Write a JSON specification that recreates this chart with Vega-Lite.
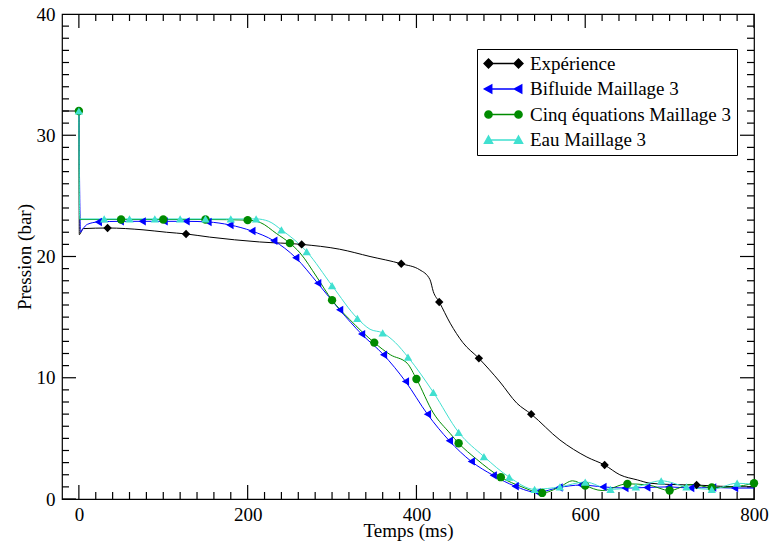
{
"$schema": "https://vega.github.io/schema/vega-lite/v6.json",
"width": 692, "height": 485,
"autosize": {"type": "none"},
"padding": {"left": 62, "top": 14, "right": 15, "bottom": 49},
"background": "white",
"config": {
  "font": "Liberation Serif",
  "view": {"stroke": "black", "strokeWidth": 1.2},
  "axis": {"grid": false, "domain": false, "ticks": false,
    "labelColor": "black", "labelFontSize": 19, "labelFont": "Liberation Serif",
    "titleFont": "Liberation Serif", "titleFontSize": 19, "titleFontWeight": "normal", "titleColor": "black",
    "labelOverlap": false, "labelFlush": false, "labelBound": false},
  "legend": {"labelFont": "Liberation Serif", "labelFontSize": 19, "labelColor": "black"}
},
"datasets": {
  "xt": [
    {"v":0,"mj":1},{"v":20,"mj":0},{"v":40,"mj":0},{"v":60,"mj":0},{"v":80,"mj":0},{"v":100,"mj":0},{"v":120,"mj":0},{"v":140,"mj":0},{"v":160,"mj":0},{"v":180,"mj":0},
    {"v":200,"mj":1},{"v":220,"mj":0},{"v":240,"mj":0},{"v":260,"mj":0},{"v":280,"mj":0},{"v":300,"mj":0},{"v":320,"mj":0},{"v":340,"mj":0},{"v":360,"mj":0},{"v":380,"mj":0},
    {"v":400,"mj":1},{"v":420,"mj":0},{"v":440,"mj":0},{"v":460,"mj":0},{"v":480,"mj":0},{"v":500,"mj":0},{"v":520,"mj":0},{"v":540,"mj":0},{"v":560,"mj":0},{"v":580,"mj":0},
    {"v":600,"mj":1},{"v":620,"mj":0},{"v":640,"mj":0},{"v":660,"mj":0},{"v":680,"mj":0},{"v":700,"mj":0},{"v":720,"mj":0},{"v":740,"mj":0},{"v":760,"mj":0},{"v":780,"mj":0},
    {"v":800,"mj":1}
  ],
  "yt": [
    {"v":0,"mj":1},{"v":1,"mj":0},{"v":2,"mj":0},{"v":3,"mj":0},{"v":4,"mj":0},{"v":5,"mj":0},{"v":6,"mj":0},{"v":7,"mj":0},{"v":8,"mj":0},{"v":9,"mj":0},
    {"v":10,"mj":1},{"v":11,"mj":0},{"v":12,"mj":0},{"v":13,"mj":0},{"v":14,"mj":0},{"v":15,"mj":0},{"v":16,"mj":0},{"v":17,"mj":0},{"v":18,"mj":0},{"v":19,"mj":0},
    {"v":20,"mj":1},{"v":21,"mj":0},{"v":22,"mj":0},{"v":23,"mj":0},{"v":24,"mj":0},{"v":25,"mj":0},{"v":26,"mj":0},{"v":27,"mj":0},{"v":28,"mj":0},{"v":29,"mj":0},
    {"v":30,"mj":1},{"v":31,"mj":0},{"v":32,"mj":0},{"v":33,"mj":0},{"v":34,"mj":0},{"v":35,"mj":0},{"v":36,"mj":0},{"v":37,"mj":0},{"v":38,"mj":0},{"v":39,"mj":0},
    {"v":40,"mj":1}
  ],
  "d": [
    {"s":"Expérience","t":-20,"p":32,"mk":0},{"s":"Expérience","t":0,"p":32,"mk":0},{"s":"Expérience","t":0.5,"p":21.8,"mk":0},{"s":"Expérience","t":5,"p":22.3,"mk":0},{"s":"Expérience","t":34,"p":22.35,"mk":1},{"s":"Expérience","t":76,"p":22.2,"mk":0},{"s":"Expérience","t":104,"p":22.0,"mk":0},{"s":"Expérience","t":127,"p":21.86,"mk":1},{"s":"Expérience","t":155,"p":21.6,"mk":0},{"s":"Expérience","t":214,"p":21.2,"mk":0},{"s":"Expérience","t":264,"p":21.0,"mk":1},{"s":"Expérience","t":309,"p":20.6,"mk":0},{"s":"Expérience","t":345,"p":20.0,"mk":0},{"s":"Expérience","t":382,"p":19.4,"mk":1},{"s":"Expérience","t":404,"p":18.9,"mk":0},{"s":"Expérience","t":416,"p":18.1,"mk":0},{"s":"Expérience","t":420,"p":17.1,"mk":0},{"s":"Expérience","t":427,"p":16.25,"mk":1},{"s":"Expérience","t":440,"p":14.5,"mk":0},{"s":"Expérience","t":455,"p":12.9,"mk":0},{"s":"Expérience","t":474,"p":11.6,"mk":1},{"s":"Expérience","t":499,"p":9.65,"mk":0},{"s":"Expérience","t":519,"p":7.9,"mk":0},{"s":"Expérience","t":536,"p":7.0,"mk":1},{"s":"Expérience","t":570,"p":4.87,"mk":0},{"s":"Expérience","t":602,"p":3.46,"mk":0},{"s":"Expérience","t":623,"p":2.8,"mk":1},{"s":"Expérience","t":641,"p":2.0,"mk":0},{"s":"Expérience","t":662,"p":1.57,"mk":0},{"s":"Expérience","t":677,"p":1.3,"mk":0},{"s":"Expérience","t":700,"p":1.2,"mk":0},{"s":"Expérience","t":732,"p":1.15,"mk":1},{"s":"Expérience","t":760,"p":1.05,"mk":0},{"s":"Expérience","t":800,"p":1.0,"mk":0},
    {"s":"Bifluide Maillage 3","t":0,"p":32,"mk":0},{"s":"Bifluide Maillage 3","t":2,"p":22.0,"mk":0},{"s":"Bifluide Maillage 3","t":5,"p":22.3,"mk":0},{"s":"Bifluide Maillage 3","t":10,"p":22.65,"mk":0},{"s":"Bifluide Maillage 3","t":23,"p":22.85,"mk":1},{"s":"Bifluide Maillage 3","t":49,"p":22.9,"mk":1},{"s":"Bifluide Maillage 3","t":75,"p":22.9,"mk":1},{"s":"Bifluide Maillage 3","t":101,"p":22.9,"mk":1},{"s":"Bifluide Maillage 3","t":127,"p":22.9,"mk":1},{"s":"Bifluide Maillage 3","t":153,"p":22.85,"mk":1},{"s":"Bifluide Maillage 3","t":179,"p":22.6,"mk":1},{"s":"Bifluide Maillage 3","t":205,"p":22.1,"mk":1},{"s":"Bifluide Maillage 3","t":231,"p":21.3,"mk":1},{"s":"Bifluide Maillage 3","t":257,"p":19.9,"mk":1},{"s":"Bifluide Maillage 3","t":283,"p":17.8,"mk":1},{"s":"Bifluide Maillage 3","t":309,"p":15.6,"mk":1},{"s":"Bifluide Maillage 3","t":335,"p":13.6,"mk":1},{"s":"Bifluide Maillage 3","t":361,"p":11.9,"mk":1},{"s":"Bifluide Maillage 3","t":387,"p":9.7,"mk":1},{"s":"Bifluide Maillage 3","t":413,"p":7.0,"mk":1},{"s":"Bifluide Maillage 3","t":439,"p":4.8,"mk":1},{"s":"Bifluide Maillage 3","t":465,"p":3.1,"mk":1},{"s":"Bifluide Maillage 3","t":491,"p":1.95,"mk":1},{"s":"Bifluide Maillage 3","t":517,"p":1.05,"mk":1},{"s":"Bifluide Maillage 3","t":543,"p":0.55,"mk":1},{"s":"Bifluide Maillage 3","t":569,"p":0.95,"mk":1},{"s":"Bifluide Maillage 3","t":595,"p":1.15,"mk":1},{"s":"Bifluide Maillage 3","t":621,"p":1.0,"mk":1},{"s":"Bifluide Maillage 3","t":647,"p":0.9,"mk":1},{"s":"Bifluide Maillage 3","t":673,"p":0.95,"mk":1},{"s":"Bifluide Maillage 3","t":699,"p":1.0,"mk":1},{"s":"Bifluide Maillage 3","t":725,"p":0.9,"mk":1},{"s":"Bifluide Maillage 3","t":751,"p":0.95,"mk":1},{"s":"Bifluide Maillage 3","t":777,"p":0.9,"mk":1},{"s":"Bifluide Maillage 3","t":800,"p":0.9,"mk":0},
    {"s":"Cinq équations Maillage 3","t":0,"p":32,"mk":1},{"s":"Cinq équations Maillage 3","t":1,"p":23.05,"mk":0},{"s":"Cinq équations Maillage 3","t":50,"p":23.05,"mk":1},{"s":"Cinq équations Maillage 3","t":100,"p":23.05,"mk":1},{"s":"Cinq équations Maillage 3","t":150,"p":23.05,"mk":1},{"s":"Cinq équations Maillage 3","t":200,"p":23.0,"mk":1},{"s":"Cinq équations Maillage 3","t":215,"p":22.8,"mk":0},{"s":"Cinq équations Maillage 3","t":234,"p":21.9,"mk":0},{"s":"Cinq équations Maillage 3","t":250,"p":21.1,"mk":1},{"s":"Cinq équations Maillage 3","t":262,"p":20.3,"mk":0},{"s":"Cinq équations Maillage 3","t":282,"p":18.3,"mk":0},{"s":"Cinq équations Maillage 3","t":300,"p":16.4,"mk":1},{"s":"Cinq équations Maillage 3","t":321,"p":14.8,"mk":0},{"s":"Cinq équations Maillage 3","t":350,"p":12.9,"mk":1},{"s":"Cinq équations Maillage 3","t":369,"p":11.9,"mk":0},{"s":"Cinq équations Maillage 3","t":389,"p":11.2,"mk":0},{"s":"Cinq équations Maillage 3","t":400,"p":9.9,"mk":1},{"s":"Cinq équations Maillage 3","t":420,"p":7.1,"mk":0},{"s":"Cinq équations Maillage 3","t":440,"p":5.4,"mk":0},{"s":"Cinq équations Maillage 3","t":450,"p":4.6,"mk":1},{"s":"Cinq équations Maillage 3","t":471,"p":3.3,"mk":0},{"s":"Cinq équations Maillage 3","t":500,"p":1.8,"mk":1},{"s":"Cinq équations Maillage 3","t":525,"p":1.0,"mk":0},{"s":"Cinq équations Maillage 3","t":549,"p":0.5,"mk":1},{"s":"Cinq équations Maillage 3","t":570,"p":1.0,"mk":0},{"s":"Cinq équations Maillage 3","t":585,"p":1.5,"mk":0},{"s":"Cinq équations Maillage 3","t":600,"p":1.1,"mk":1},{"s":"Cinq équations Maillage 3","t":620,"p":0.7,"mk":0},{"s":"Cinq équations Maillage 3","t":650,"p":1.25,"mk":1},{"s":"Cinq équations Maillage 3","t":675,"p":1.15,"mk":0},{"s":"Cinq équations Maillage 3","t":700,"p":0.7,"mk":1},{"s":"Cinq équations Maillage 3","t":725,"p":1.2,"mk":0},{"s":"Cinq équations Maillage 3","t":750,"p":0.95,"mk":1},{"s":"Cinq équations Maillage 3","t":775,"p":1.0,"mk":0},{"s":"Cinq équations Maillage 3","t":800,"p":1.3,"mk":1},
    {"s":"Eau Maillage 3","t":0,"p":32,"mk":1},{"s":"Eau Maillage 3","t":1,"p":23.1,"mk":0},{"s":"Eau Maillage 3","t":30,"p":23.1,"mk":1},{"s":"Eau Maillage 3","t":60,"p":23.1,"mk":1},{"s":"Eau Maillage 3","t":90,"p":23.1,"mk":1},{"s":"Eau Maillage 3","t":120,"p":23.1,"mk":1},{"s":"Eau Maillage 3","t":150,"p":23.1,"mk":1},{"s":"Eau Maillage 3","t":180,"p":23.1,"mk":1},{"s":"Eau Maillage 3","t":210,"p":23.1,"mk":1},{"s":"Eau Maillage 3","t":225,"p":22.9,"mk":0},{"s":"Eau Maillage 3","t":240,"p":22.2,"mk":1},{"s":"Eau Maillage 3","t":270,"p":20.4,"mk":1},{"s":"Eau Maillage 3","t":300,"p":17.6,"mk":1},{"s":"Eau Maillage 3","t":330,"p":14.9,"mk":1},{"s":"Eau Maillage 3","t":345,"p":14.0,"mk":0},{"s":"Eau Maillage 3","t":360,"p":13.7,"mk":1},{"s":"Eau Maillage 3","t":375,"p":12.9,"mk":0},{"s":"Eau Maillage 3","t":390,"p":11.7,"mk":1},{"s":"Eau Maillage 3","t":420,"p":8.8,"mk":1},{"s":"Eau Maillage 3","t":450,"p":5.5,"mk":1},{"s":"Eau Maillage 3","t":480,"p":3.5,"mk":1},{"s":"Eau Maillage 3","t":510,"p":1.8,"mk":1},{"s":"Eau Maillage 3","t":540,"p":0.8,"mk":1},{"s":"Eau Maillage 3","t":570,"p":1.0,"mk":1},{"s":"Eau Maillage 3","t":600,"p":1.4,"mk":1},{"s":"Eau Maillage 3","t":630,"p":0.8,"mk":1},{"s":"Eau Maillage 3","t":660,"p":1.0,"mk":1},{"s":"Eau Maillage 3","t":690,"p":1.5,"mk":1},{"s":"Eau Maillage 3","t":720,"p":1.0,"mk":1},{"s":"Eau Maillage 3","t":750,"p":0.8,"mk":1},{"s":"Eau Maillage 3","t":780,"p":1.3,"mk":1},{"s":"Eau Maillage 3","t":800,"p":1.2,"mk":0}
  ]
},
"resolve": {"scale": {"shape": "independent", "fill": "independent", "stroke": "independent"}, "axis": {"x": "independent", "y": "independent"}},
"layer": [
  {
    "data": {"name": "xt"},
    "mark": {"type": "tick", "orient": "vertical", "clip": true, "thickness": 1.2, "color": "black", "opacity": 1},
    "encoding": {
      "x": {"field": "v", "type": "quantitative", "scale": {"domain": [-20, 800], "nice": false, "zero": false}, "axis": null},
      "y": {"datum": 0, "type": "quantitative", "scale": {"domain": [0, 40], "nice": false, "zero": false}, "axis": null},
      "size": {"condition": {"test": "datum.mj === 1", "value": 28}, "value": 14}
    }
  },
  {
    "data": {"name": "xt"},
    "mark": {"type": "tick", "orient": "vertical", "clip": true, "thickness": 1.2, "color": "black", "opacity": 1},
    "encoding": {
      "x": {"field": "v", "type": "quantitative", "scale": {"domain": [-20, 800], "nice": false, "zero": false}, "axis": null},
      "y": {"datum": 40, "type": "quantitative", "scale": {"domain": [0, 40], "nice": false, "zero": false}, "axis": null},
      "size": {"condition": {"test": "datum.mj === 1", "value": 28}, "value": 14}
    }
  },
  {
    "data": {"name": "yt"},
    "mark": {"type": "tick", "orient": "horizontal", "clip": true, "thickness": 1.2, "color": "black", "opacity": 1},
    "encoding": {
      "y": {"field": "v", "type": "quantitative", "scale": {"domain": [0, 40], "nice": false, "zero": false}, "axis": null},
      "x": {"datum": -20, "type": "quantitative", "scale": {"domain": [-20, 800], "nice": false, "zero": false}, "axis": null},
      "size": {"condition": {"test": "datum.mj === 1", "value": 28}, "value": 14}
    }
  },
  {
    "data": {"name": "yt"},
    "mark": {"type": "tick", "orient": "horizontal", "clip": true, "thickness": 1.2, "color": "black", "opacity": 1},
    "encoding": {
      "y": {"field": "v", "type": "quantitative", "scale": {"domain": [0, 40], "nice": false, "zero": false}, "axis": null},
      "x": {"datum": 800, "type": "quantitative", "scale": {"domain": [-20, 800], "nice": false, "zero": false}, "axis": null},
      "size": {"condition": {"test": "datum.mj === 1", "value": 28}, "value": 14}
    }
  },
  {
    "data": {"name": "d"},
    "mark": {"type": "line", "interpolate": "monotone"},
    "encoding": {
      "x": {"field": "t", "type": "quantitative", "scale": {"domain": [-20, 800], "nice": false, "zero": false},
        "axis": {"orient": "bottom", "title": "Temps (ms)", "labelPadding": 6, "titlePadding": -3,
          "values": [0, 200, 400, 600, 800]}},
      "y": {"field": "p", "type": "quantitative", "scale": {"domain": [0, 40], "nice": false, "zero": false},
        "axis": {"orient": "left", "title": "Pression (bar)", "labelPadding": 7, "titlePadding": 2,
          "values": [0, 10, 20, 30, 40]}},
      "color": {"field": "s", "type": "nominal",
        "scale": {"domain": ["Expérience", "Bifluide Maillage 3", "Cinq équations Maillage 3", "Eau Maillage 3"], "range": ["#000000", "#0000ff", "#008b00", "#40e0d0"]},
        "legend": null},
      "strokeWidth": {"field": "s", "type": "ordinal",
        "scale": {"domain": ["Expérience", "Bifluide Maillage 3", "Cinq équations Maillage 3", "Eau Maillage 3"], "range": [1, 1, 2, 1.5]},
        "legend": null}
    }
  },
  {
    "data": {"name": "d"},
    "transform": [{"filter": {"field": "mk", "equal": 1}}],
    "mark": {"type": "point", "filled": true, "size": 70, "opacity": 1},
    "encoding": {
      "x": {"field": "t", "type": "quantitative", "scale": {"domain": [-20, 800], "nice": false, "zero": false}, "axis": null},
      "y": {"field": "p", "type": "quantitative", "scale": {"domain": [0, 40], "nice": false, "zero": false}, "axis": null},
      "color": {"field": "s", "type": "nominal", "legend": null},
      "shape": {"field": "s", "type": "nominal",
        "scale": {"domain": ["Expérience", "Bifluide Maillage 3", "Cinq équations Maillage 3", "Eau Maillage 3"], "range": ["diamond", "triangle-left", "circle", "triangle-up"]},
        "legend": null}
    }
  },
  {
    "data": {"name": "d"},
    "transform": [{"filter": {"field": "mk", "equal": 1}}],
    "mark": {"type": "point", "filled": true, "opacity": 0},
    "encoding": {
      "x": {"field": "t", "type": "quantitative", "scale": {"domain": [-20, 800], "nice": false, "zero": false}, "axis": null},
      "y": {"field": "p", "type": "quantitative", "scale": {"domain": [0, 40], "nice": false, "zero": false}, "axis": null},
      "shape": {"field": "s", "type": "nominal",
        "scale": {"domain": ["Expérience", "Bifluide Maillage 3", "Cinq équations Maillage 3", "Eau Maillage 3"],
          "range": [
            "M-0.375,0L3.375,0M-0.925,0L-0.375,-0.55L0.175,0L-0.375,0.55ZM2.825,0L3.375,-0.55L3.925,0L3.375,0.55Z",
            "M-0.375,0L3.375,0M-0.875,0L0.025,-0.5L0.025,0.5ZM2.875,0L3.775,-0.5L3.775,0.5Z",
            "M-0.375,0L3.375,0M-0.825,0A0.45,0.45,0,1,0,0.075,0A0.45,0.45,0,1,0,-0.825,0ZM2.925,0A0.45,0.45,0,1,0,3.825,0A0.45,0.45,0,1,0,2.925,0Z",
            "M-0.375,0L3.375,0M-0.375,-0.5L0.125,0.4L-0.875,0.4ZM3.375,-0.5L3.875,0.4L2.875,0.4Z"
          ]},
        "legend": {"orient": "none", "legendX": 415, "legendY": 35, "title": null,
          "labelFontSize": 19, "labelFont": "Liberation Serif", "labelColor": "black", "labelLimit": 400,
          "symbolSize": 256, "symbolStrokeWidth": 1.5, "symbolOpacity": 1,
          "strokeColor": "black", "fillColor": "white", "padding": 5, "rowPadding": 5.5, "labelOffset": 29}},
      "fill": {"field": "s", "type": "nominal",
        "scale": {"domain": ["Expérience", "Bifluide Maillage 3", "Cinq équations Maillage 3", "Eau Maillage 3"], "range": ["#000000", "#0000ff", "#008b00", "#40e0d0"]},
        "legend": {"orient": "none", "legendX": 415, "legendY": 35, "title": null,
          "labelFontSize": 19, "labelFont": "Liberation Serif", "labelColor": "black", "labelLimit": 400,
          "symbolSize": 256, "symbolStrokeWidth": 1.5, "symbolOpacity": 1,
          "strokeColor": "black", "fillColor": "white", "padding": 5, "rowPadding": 5.5, "labelOffset": 29}},
      "stroke": {"field": "s", "type": "nominal",
        "scale": {"domain": ["Expérience", "Bifluide Maillage 3", "Cinq équations Maillage 3", "Eau Maillage 3"], "range": ["#000000", "#0000ff", "#008b00", "#40e0d0"]},
        "legend": {"orient": "none", "legendX": 415, "legendY": 35, "title": null,
          "labelFontSize": 19, "labelFont": "Liberation Serif", "labelColor": "black", "labelLimit": 400,
          "symbolSize": 256, "symbolStrokeWidth": 1.5, "symbolOpacity": 1,
          "strokeColor": "black", "fillColor": "white", "padding": 5, "rowPadding": 5.5, "labelOffset": 29}}
    }
  }
]
}
